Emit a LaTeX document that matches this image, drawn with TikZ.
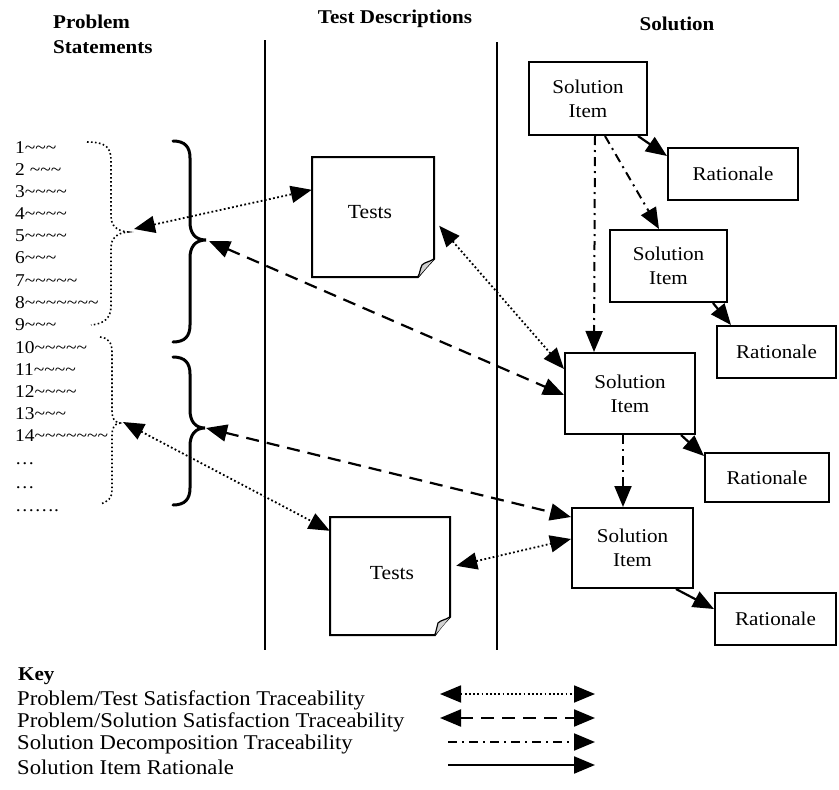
\documentclass[tikz,border=0pt]{standalone}
\usepackage{fontspec}
\setmainfont{Liberation Serif}[FakeStretch=1.08]
\usetikzlibrary{arrows.meta,calc}
\newcommand\wig{\textasciitilde}

\begin{document}
\begin{tikzpicture}[x=1pt,y=-1pt,
  box/.style={draw, line width=2pt, inner sep=0pt, align=center,
    font=\fontsize{19.5}{24}\selectfont},
  docnode/.style={inner sep=0pt, font=\fontsize{20}{24}\selectfont},
  docframe/.style={draw, line width=2pt, line join=miter},
  head/.style={inner sep=0pt, font=\fontsize{19.5}{24}\selectfont\bfseries},
  item/.style={inner sep=0pt, anchor=base west, font=\fontsize{18}{22}\selectfont},
  keytext/.style={inner sep=0pt, anchor=west, font=\fontsize{21}{24}\selectfont},
  tipend/.style={-{Triangle[length=21pt,width=17pt]}},
  tipboth/.style={{Triangle[length=21pt,width=17pt]}-{Triangle[length=21pt,width=17pt]}},
  dotln/.style={line width=1.8pt, dash pattern=on 1.8pt off 2.4pt},
  dashln/.style={line width=2.2pt, dash pattern=on 13pt off 8pt},
  dashdotln/.style={line width=2pt, dash pattern=on 9pt off 5pt on 2pt off 5pt},
  solidln/.style={line width=2.2pt},
  column/.style={line width=2pt},
  bracebold/.style={line width=3pt, line cap=round},
  bracedot/.style={line width=1.6pt, dash pattern=on 1.6pt off 2.4pt}
]
\fill[white] (0,0) rectangle (839,790);
\useasboundingbox (0,0) rectangle (839,790);

% column headings
\node[head, anchor=west] (hp1) at (53,22) {Problem};
\node[head, anchor=west] (hp2) at (53,47) {Statements};
\node[head] (ht) at (395,19) {Test Descriptions};
\node[head] (hs) at (677,24) {Solution};

% column separators
\draw[column] (265,40) -- (265,650);
\draw[column] (497,42) -- (497,650);

% problem statement list
\node[item] (p1)  at (15,153.5) {1\wig\wig\wig};
\node[item] (p2)  at (15,175.5) {2 \wig\wig\wig};
\node[item] (p3)  at (15,197.5) {3\wig\wig\wig\wig};
\node[item] (p4)  at (15,219.5) {4\wig\wig\wig\wig};
\node[item] (p5)  at (15,241.5) {5\wig\wig\wig\wig};
\node[item] (p6)  at (15,263.5) {6\wig\wig\wig};
\node[item] (p7)  at (15,286.5) {7\wig\wig\wig\wig\wig};
\node[item] (p8)  at (15,308.5) {8\wig\wig\wig\wig\wig\wig\wig};
\node[item] (p9)  at (15,330.5) {9\wig\wig\wig};
\node[item] (p10) at (15,353.5) {10\wig\wig\wig\wig\wig};
\node[item] (p11) at (15,375.5) {11\wig\wig\wig\wig};
\node[item] (p12) at (15,397.5) {12\wig\wig\wig\wig};
\node[item] (p13) at (15,419.5) {13\wig\wig\wig};
\node[item] (p14) at (15,441.5) {14\wig\wig\wig\wig\wig\wig\wig};
\node[item] (p15) at (15,464.5) {…};
\node[item] (p16) at (15,488.5) {…};
\node[item] (p17) at (15,511.5) {…….};

% dotted groupings of the list
\draw[bracedot] (87,142) .. controls (104,142) and (111,146) .. (111,160)
  -- (111,216) .. controls (111,226) and (117,231) .. (128,232)
  .. controls (117,233) and (111,238) .. (111,248)
  -- (111,306) .. controls (111,318) and (104,324) .. (91,325);
\draw[bracedot] (100,337) .. controls (108,338) and (112,342) .. (112,352)
  -- (112,410) .. controls (112,418) and (114,422) .. (120,423)
  .. controls (114,424) and (112,428) .. (112,436)
  -- (112,490) .. controls (112,498) and (108,502) .. (100,504);
\coordinate (pb1) at (134,229);
\coordinate (pb2) at (123,422);

% solid groupings of the list
\draw[bracebold] (173,141) .. controls (185,141) and (190,147) .. (190,158)
  -- (190,222) .. controls (190,233) and (195,240) .. (206,240)
  .. controls (195,240) and (190,247) .. (190,258)
  -- (190,325) .. controls (190,336) and (185,342) .. (173,342);
\draw[bracebold] (173,357) .. controls (185,357) and (190,363) .. (190,374)
  -- (190,410) .. controls (190,421) and (195,428) .. (205,428)
  .. controls (195,428) and (190,435) .. (190,446)
  -- (190,488) .. controls (190,499) and (185,505) .. (173,505);
\coordinate (sb1) at (209,241);
\coordinate (sb2) at (206,428);

% test documents
\node[docnode, minimum width=122pt, minimum height=120pt] (t1) at (373,217) {};
\node[docnode] at (370,212) {Tests};
\draw[docframe] (312,157) -- (434,157) -- (434,259)
  .. controls (428,265) and (423,271) .. (418,277) -- (312,277) -- cycle;
\draw[line width=1.2pt, fill=gray!35] (434,259) .. controls (429,262) and (425,262) .. (422,265)
  .. controls (420,269) and (420,273) .. (418,277);

\node[docnode, minimum width=120pt, minimum height=118pt] (t2) at (390,576) {};
\node[docnode] at (392,573) {Tests};
\draw[docframe] (330,517) -- (450,517) -- (450,617)
  .. controls (444,623) and (439,629) .. (435,635) -- (330,635) -- cycle;
\draw[line width=1.2pt, fill=gray!35] (450,617) .. controls (445,620) and (441,620) .. (438,623)
  .. controls (437,627) and (436,631) .. (435,635);

% solution items and rationales
\node[box, minimum width=118pt, minimum height=73pt] (si1) at (588,98.5) {Solution\\Item};
\node[box, minimum width=130pt, minimum height=52pt] (r1) at (733,174) {Rationale};
\node[box, minimum width=117pt, minimum height=72pt] (si2) at (668.5,266) {Solution\\Item};
\node[box, minimum width=119pt, minimum height=52pt] (r2) at (776.5,352) {Rationale};
\node[box, minimum width=130pt, minimum height=81pt] (si3) at (630,393.5) {Solution\\Item};
\node[box, minimum width=124pt, minimum height=49pt] (r3) at (767,477.5) {Rationale};
\node[box, minimum width=121pt, minimum height=80pt] (si4) at (632.5,548) {Solution\\Item};
\node[box, minimum width=121pt, minimum height=52pt] (r4) at (775.5,619) {Rationale};

% rationale links
\draw[solidln, tipend] ($(si1.south east)+(-10,0)$) -- ($(r1.north west)+(0,9)$);
\draw[solidln, tipend] ($(si2.south east)+(-15,0)$) -- ($(r2.north west)+(15,0)$);
\draw[solidln, tipend] ($(si3.south east)+(-15,0)$) -- ($(r3.north west)+(0,4)$);
\draw[solidln, tipend] ($(si4.south east)+(-18,0)$) -- ($(r4.north west)+(0,17)$);

% decomposition links
\draw[dashdotln, tipend] ($(si1.south)+(17,0)$) -- ($(si2.north west)+(50,0)$);
\draw[dashdotln, tipend] ($(si1.south)+(7,0)$) -- ($(si3.north west)+(30,0)$);
\draw[dashdotln, tipend] ($(si3.south)+(-7,0)$) -- ($(si4.north)+(-9.5,0)$);

% problem/test links
\draw[dotln, tipboth] (pb1) -- ($(t1.north west)+(0,33)$);
\draw[dotln, tipboth] (pb2) -- ($(t2.north west)+(0,14)$);

% test/solution links
\draw[dotln, tipboth] ($(t1.north east)+(5,69)$) -- ($(si3.north west)+(0,17)$);
\draw[dotln, tipboth] ($(t2.north east)+(6,49)$) -- ($(si4.north west)+(0,32)$);

% problem/solution links
\draw[dashln, tipboth] (sb1) -- ($(si3.north west)+(0,43)$);
\draw[dashln, tipboth] (sb2) -- ($(si4.north west)+(0,10)$);

% key
\node[keytext, font=\fontsize{19.5}{24}\selectfont\bfseries] (k0) at (18,676) {Key};
\node[keytext] (k1) at (17,700) {Problem/Test Satisfaction Traceability};
\node[keytext] (k2) at (17,722) {Problem/Solution Satisfaction Traceability};
\node[keytext] (k3) at (17,744) {Solution Decomposition Traceability};
\node[keytext] (k4) at (17,767) {Solution Item Rationale};
\coordinate (k1a) at (440,694); \coordinate (k1b) at (595,694);
\coordinate (k2a) at (440,718); \coordinate (k2b) at (595,718);
\coordinate (k3a) at (448,742); \coordinate (k3b) at (595,742);
\coordinate (k4a) at (448,765); \coordinate (k4b) at (595,765);
\draw[dotln, tipboth] (k1a) -- (k1b);
\draw[dashln, tipboth] (k2a) -- (k2b);
\draw[dashdotln, tipend] (k3a) -- (k3b);
\draw[solidln, tipend] (k4a) -- (k4b);
\end{tikzpicture}
\end{document}
